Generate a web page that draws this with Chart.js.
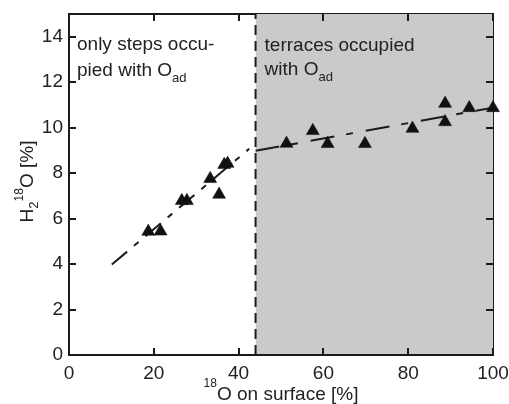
<!DOCTYPE html>
<html><head><meta charset="utf-8">
<script src="https://cdn.jsdelivr.net/npm/chart.js@4/dist/chart.umd.min.js"></script>
<style>html,body{margin:0;padding:0;background:#fff}</style>
</head><body>
<canvas id="c" width="509" height="404"></canvas>
<script>
// ---- data ----
const xTicks = [0, 20, 40, 60, 80, 100];
const yTicks = [0, 2, 4, 6, 8, 10, 12, 14];
const xRange = [0, 100];
const yRange = [0, 15];

const stepsX = [18.7, 21.6, 26.6, 27.8, 33.3, 35.4, 36.6, 37.4];
const stepsY = [5.43, 5.44, 6.78, 6.78, 7.75, 7.06, 8.37, 8.42];

const terraceX = [51.3, 57.5, 61.0, 69.8, 81.0, 88.7, 88.7, 94.4, 100];
const terraceY = [9.30, 9.86, 9.29, 9.29, 9.96, 11.06, 10.25, 10.87, 10.87];

const fitStepsX = [10.1, 42.5];
const fitStepsY = [3.98, 9.07];
const fitTerraceX = [44, 100];
const fitTerraceY = [8.98, 10.88];

const boundaryX = [44];          // onset of terrace occupation
const shadeX = [44, 100];        // shaded region (terraces)

const leftNote = ["only steps occu-", "pied with O", "ad"];
const rightNote = ["terraces occupied", "with O", "ad"];

// ---- build ----
const pts = (xs, ys) => xs.map((x, i) => ({x, y: ys[i]}));
const INK = '#1b1b1b';
const FONT = '"Liberation Sans", Arial, Helvetica, sans-serif';

function richWidth(ctx, parts) {
  let w = 0;
  for (const p of parts) { ctx.font = p.size + 'px ' + FONT; w += ctx.measureText(p.t).width; }
  return w;
}
function drawRich(ctx, parts, x, y) {
  let cx = x;
  ctx.textBaseline = 'alphabetic';
  ctx.textAlign = 'left';
  for (const p of parts) {
    ctx.font = p.size + 'px ' + FONT;
    ctx.fillText(p.t, cx, y + (p.dy || 0));
    cx += ctx.measureText(p.t).width;
  }
}

const decor = {
  id: 'decor',
  beforeDatasetsDraw(chart) {
    const {ctx, chartArea: a, scales: {x, y}} = chart;
    ctx.save();
    ctx.strokeStyle = INK;
    ctx.lineWidth = 2;
    ctx.setLineDash([]);
    ctx.strokeRect(a.left, a.top, a.right - a.left, a.bottom - a.top);
    ctx.restore();
  },
  afterDraw(chart) {
    const {ctx, chartArea: a, scales: {x, y}} = chart;
    ctx.save();
    ctx.strokeStyle = INK;
    ctx.fillStyle = INK;
    ctx.lineWidth = 2;
    ctx.setLineDash([]);
    const tl = 7;
    ctx.beginPath();
    ctx.moveTo(a.left, a.top); ctx.lineTo(a.left, a.bottom); ctx.lineTo(a.right, a.bottom);
    for (const v of xTicks) {
      const px = Math.round(x.getPixelForValue(v));
      ctx.moveTo(px, a.bottom); ctx.lineTo(px, a.bottom - tl);
      ctx.moveTo(px, a.top); ctx.lineTo(px, a.top + tl);
    }
    for (const v of yTicks) {
      const py = Math.round(y.getPixelForValue(v));
      ctx.moveTo(a.left, py); ctx.lineTo(a.left + tl, py);
      ctx.moveTo(a.right, py); ctx.lineTo(a.right - tl, py);
    }
    ctx.stroke();

    // annotations
    ctx.fillStyle = '#222';
    const lx = a.left + 8, rx = x.getPixelForValue(boundaryX[0]) + 9;
    drawRich(ctx, [{t: leftNote[0], size: 19}], lx, a.top + 36);
    drawRich(ctx, [{t: leftNote[1], size: 19}, {t: leftNote[2], size: 13, dy: 6}], lx, a.top + 62);
    drawRich(ctx, [{t: rightNote[0], size: 19}], rx, a.top + 37);
    drawRich(ctx, [{t: rightNote[1], size: 19}, {t: rightNote[2], size: 13, dy: 6}], rx, a.top + 61);

    // x title
    const xt = [{t: '18', size: 12, dy: -13}, {t: 'O on surface [%]', size: 19}];
    const xw = richWidth(ctx, xt);
    drawRich(ctx, xt, (a.left + a.right) / 2 - xw / 2, 400);

    // y title
    const yt = [{t: 'H', size: 19}, {t: '2', size: 13, dy: 5}, {t: '18', size: 12, dy: -10}, {t: 'O [%]', size: 19}];
    const yw = richWidth(ctx, yt);
    ctx.translate(33, (a.top + a.bottom) / 2 - 3);
    ctx.rotate(-Math.PI / 2);
    drawRich(ctx, yt, -yw / 2, 0);
    ctx.restore();
  }
};

new Chart(document.getElementById('c'), {
  type: 'scatter',
  data: {
    datasets: [
      { data: pts(shadeX, shadeX.map(() => yRange[1])), showLine: true, fill: 'origin',
        backgroundColor: '#c9cacc', borderWidth: 0, pointRadius: 0, order: 10 },
      { data: pts([boundaryX[0], boundaryX[0]], yRange), showLine: true, borderColor: INK,
        borderWidth: 2, borderDash: [10, 6], pointRadius: 0, order: 9 },
      { data: pts(fitStepsX, fitStepsY), showLine: true, borderColor: INK, borderWidth: 2,
        borderDash: [20, 9, 6, 9], pointRadius: 0, order: 5 },
      { data: pts(fitTerraceX, fitTerraceY), showLine: true, borderColor: INK, borderWidth: 2,
        borderDash: [24, 12, 7, 13], pointRadius: 0, order: 5 },
      { data: pts(stepsX, stepsY), pointStyle: 'triangle', pointRadius: 7.5, pointHoverRadius: 7.5,
        backgroundColor: '#111', borderColor: '#111', borderWidth: 0.5, order: 1, clip: false },
      { data: pts(terraceX, terraceY), pointStyle: 'triangle', pointRadius: 7.5, pointHoverRadius: 7.5,
        backgroundColor: '#111', borderColor: '#111', borderWidth: 0.5, order: 1, clip: false }
    ]
  },
  options: {
    responsive: false,
    animation: false,
    devicePixelRatio: 1,
    events: [],
    layout: { padding: { top: 14, right: 16, left: 0, bottom: 0 } },
    plugins: { legend: { display: false }, tooltip: { enabled: false } },
    scales: {
      x: {
        type: 'linear', min: xRange[0], max: xRange[1],
        afterBuildTicks: s => { s.ticks = xTicks.map(v => ({value: v})); },
        afterFit: s => { s.height = 49; s.paddingLeft = 0; s.paddingRight = 0; },
        grid: { display: false, drawTicks: false },
        border: { display: false },
        ticks: { padding: 7, color: '#222', font: { family: FONT, size: 19 }, maxRotation: 0 }
      },
      y: {
        type: 'linear', min: yRange[0], max: yRange[1],
        afterBuildTicks: s => { s.ticks = yTicks.map(v => ({value: v})); },
        afterFit: s => { s.width = 69; s.paddingTop = 0; s.paddingBottom = 0; },
        grid: { display: false, drawTicks: false },
        border: { display: false },
        ticks: { padding: 6, color: '#222', font: { family: FONT, size: 19 } }
      }
    }
  },
  plugins: [decor]
});
</script>
</body></html>
